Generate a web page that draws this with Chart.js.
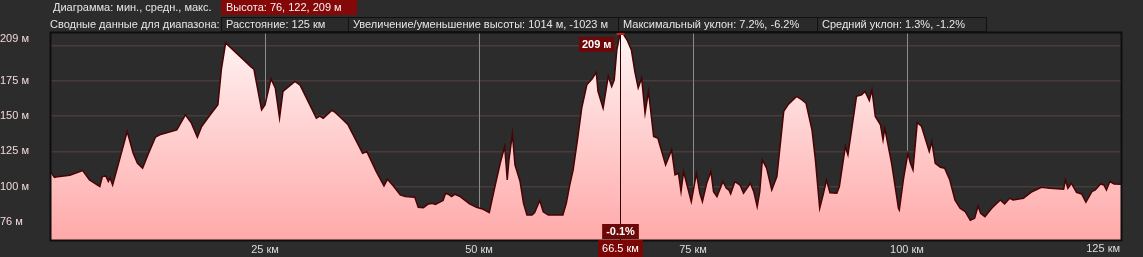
<!DOCTYPE html>
<html>
<head>
<meta charset="utf-8">
<script src="https://cdn.jsdelivr.net/npm/chart.js@4/dist/chart.umd.min.js"></script>
<style>
  html,body{margin:0;padding:0;background:#2c2c2c;}
  #wrap{position:relative;width:1143px;height:257px;overflow:hidden;background:#2c2c2c;font-family:"Liberation Sans",Arial,sans-serif;font-size:11px;color:#e6e6e6;}
  #c{position:absolute;left:0;top:0;}
  .t{position:absolute;white-space:nowrap;line-height:15px;height:15px;}
  .red{background:#850808;color:#f4f4f4;padding-left:5px;box-sizing:border-box;}
  .box{border:1px solid #111;background:#2a2a2a;padding-left:4px;box-sizing:border-box;line-height:13px;}
</style>
</head>
<body>
<div id="wrap">
  <canvas id="c" width="1143" height="257"></canvas>
  <div id="hdr"></div>
</div>
<script>
// ---- header texts ----
const headerRow1Label = "Диаграмма: мин., средн., макс.";
const headerRow1Value = "Высота: 76, 122, 209 м";
const headerRow2Label = "Сводные данные для диапазона:";
const headerRow2Boxes = [
  "Расстояние: 125 км",
  "Увеличение/уменьшение высоты: 1014 м, -1023 м",
  "Максимальный уклон: 7.2%, -6.2%",
  "Средний уклон: 1.3%, -1.2%"
];

// ---- axis ticks ----
const xTickValues = [25, 50, 75, 100, 125];
const xTickUnit = " км";
const yTickValues = [75, 100, 125, 150, 175, 200];
const yTickLabels = ["76 м", "100 м", "125 м", "150 м", "175 м", "209 м"];

// ---- cursor readout ----
const cursorKm = 66.5;
const cursorElevLabel = "209 м";
const cursorGradeLabel = "-0.1%";
const cursorKmLabel = "66.5 км";

// ---- elevation profile ----
const distanceKm = [
  0.0,0.4,0.8,2.2,3.7,4.5,5.7,6.0,6.4,6.7,6.9,7.2,8.1,8.9,9.6,10.1,10.7,11.4,12.2,12.7,
  14.7,15.7,16.4,17.1,17.6,18.6,19.5,19.9,20.4,23.4,23.7,24.6,25.0,25.7,26.2,26.7,27.1,28.5,29.1,31.0,
  31.4,31.8,32.8,33.2,33.8,34.7,35.9,36.4,36.9,38.0,38.9,39.3,40.0,40.8,41.4,42.5,42.9,43.5,44.1,44.5,
  44.9,45.8,46.1,46.4,46.8,47.2,47.8,48.9,49.7,50.5,51.2,51.9,52.5,53.0,53.3,53.5,53.9,54.2,54.8,55.2,
  55.6,56.2,56.5,57.1,57.5,58.1,59.8,60.2,60.6,61.0,61.5,62.0,62.6,63.2,63.7,63.9,64.5,65.1,65.5,65.8,
  66.1,66.5,66.9,67.3,67.8,68.2,68.6,69.0,69.4,69.8,70.4,70.9,71.8,72.5,72.9,73.3,73.6,73.9,74.8,75.4,
  75.8,76.1,76.6,77.1,77.4,77.8,78.5,78.9,79.2,79.4,79.9,80.5,80.9,81.7,82.1,82.5,82.8,83.1,83.6,84.2,
  84.8,85.6,86.1,87.1,87.7,88.2,88.9,89.3,89.8,90.2,90.6,91.0,91.8,92.1,92.8,93.1,94.1,94.7,95.1,95.6,
  95.9,96.3,96.9,97.2,97.4,98.2,99.0,99.1,99.6,100.1,100.4,100.7,101.2,101.7,102.6,102.9,103.3,103.9,104.4,105.0,
  105.6,106.2,106.8,107.4,107.9,108.3,108.6,109.1,109.9,110.9,111.4,112.0,112.4,113.6,114.6,115.7,116.7,118.3,118.5,118.8,
  119.2,119.8,120.4,120.9,121.6,122.0,122.6,123.0,123.3,123.7,124.2,125.0
];
const elevationM = [
  110,106.5,107,108,111.3,104.6,100,107,107.5,103.5,106,101,121,139,123.6,116.5,113,123.6,135,136.7,
  140.2,150.9,145,135,142.6,150.9,158,183,202,184.8,183.4,154.5,158,176.3,170,148.5,167.5,174.6,172,148.5,
  150,148.5,154,152.6,149.2,143.8,129.6,123.6,124.8,110.6,100.4,105.1,100.4,94,92.8,92.3,85.2,85,87.6,88,
  87.3,90,95.2,94.5,92.8,94.5,92.8,87.6,85.2,83.8,81.4,101,117,128.4,104.6,118.9,137.4,115.3,103.5,88,
  79.7,79.7,81.4,90,82,79.7,79.7,88,101,111.8,133,155.6,172.2,176.3,181,167.5,155.6,178.4,171,175.8,
  197,209,207.8,204,197,181.7,170,177,152,167.5,135.5,134.3,115.3,126,108.2,109.4,96.3,110.6,89.2,109.4,
  95.2,89.2,102.3,110.6,96.3,92.8,103.5,98.7,97.5,94.7,103.5,101,95.2,102.3,96.3,85.7,96.3,118.9,113,97.5,
  107,153.3,158,164,161.6,159.2,140.2,118.9,84.5,94,104.6,95.6,95.2,99.9,128.4,122.4,164,165.1,167.5,161.1,
  168.7,149.7,143.8,133.1,141.4,116.5,84.5,83.3,105.8,123.6,116.5,111.8,145.4,142.6,124.8,131.9,116.5,113.7,113,104.6,
  90.4,84.5,82.1,76,77.4,86.1,80.9,78.6,84.5,90.4,87.6,91.6,90.4,91.6,96.3,99.4,98.7,98,104.6,98.7,
  102.3,95.9,94.7,88.8,96.3,97.5,101.8,101.1,97.5,103.5,101.8,101.6
];

// ---- header (HTML) ----
(function(){
  const h = document.getElementById('hdr');
  function add(cls, text, left, top, width){
    const d = document.createElement('div');
    d.className = 't ' + cls;
    d.textContent = text;
    d.style.left = left + 'px';
    d.style.top = top + 'px';
    if (width) d.style.width = width + 'px';
    h.appendChild(d);
  }
  add('', headerRow1Label, 53, 0);
  add('red', headerRow1Value, 221, 0, 136);
  add('', headerRow2Label, 50, 17);
  const boxLefts = [221, 348, 618, 817];
  const boxRights = [348, 618, 817, 986];
  headerRow2Boxes.forEach((t, i) => add('box', t, boxLefts[i], 17, boxRights[i] - boxLefts[i] + 1));
})();

// ---- chart ----
Chart.defaults.font.family = '"Liberation Sans", Arial, sans-serif';
Chart.defaults.font.size = 11;

const overlayPlugin = {
  id: 'overlay',
  afterDraw(chart) {
    const {ctx, chartArea: a, scales: {x, y}} = chart;
    ctx.save();
    // plot frame
    ctx.strokeStyle = '#0e0e0e';
    ctx.lineWidth = 2;
    ctx.strokeRect(a.left - 0.5, a.top - 0.5, a.right - a.left + 1, a.bottom - a.top + 1);

    // last x label right-aligned at the frame edge
    ctx.font = '11px "Liberation Sans", Arial, sans-serif';
    ctx.fillStyle = '#dcdcdc';
    ctx.textBaseline = 'middle';
    ctx.textAlign = 'right';
    const last = xTickValues[xTickValues.length - 1];
    ctx.fillText(last + xTickUnit, x.getPixelForValue(last) - 1, a.bottom + 9);

    // cursor
    const cx = Math.round(x.getPixelForValue(cursorKm)) + 0.5;
    ctx.strokeStyle = '#2a0000';
    ctx.lineWidth = 1;
    ctx.beginPath();
    ctx.moveTo(cx, a.top);
    ctx.lineTo(cx, a.bottom);
    ctx.stroke();
    // marker at the top
    ctx.fillStyle = '#d01818';
    ctx.fillRect(cx - 4, a.top, 8, 2);

    function box(text, left, top, w, h, bg) {
      ctx.fillStyle = bg;
      ctx.fillRect(left, top, w, h);
      ctx.fillStyle = '#ffffff';
      ctx.textAlign = 'center';
      ctx.textBaseline = 'middle';
      ctx.fillText(text, left + w / 2, top + h / 2 + 0.5);
    }
    ctx.font = 'bold 11px "Liberation Sans", Arial, sans-serif';
    const w1 = ctx.measureText(cursorElevLabel).width + 6;
    box(cursorElevLabel, cx - 6 - w1, a.top + 4, w1, 15, '#6c0808');
    const w2 = ctx.measureText(cursorGradeLabel).width + 8;
    box(cursorGradeLabel, cx - w2 / 2, a.bottom - 16, w2, 15, '#6c0808');
    ctx.font = '11px "Liberation Sans", Arial, sans-serif';
    const w3 = ctx.measureText(cursorKmLabel).width + 8;
    box(cursorKmLabel, cx - w3 / 2, a.bottom, w3, 17, '#7a0606');
    ctx.restore();
  }
};

new Chart(document.getElementById('c'), {
  type: 'line',
  data: {
    datasets: [{
      data: distanceKm.map((d, i) => ({x: d, y: elevationM[i]})),
      borderColor: '#4a0202',
      borderWidth: 1.5,
      pointRadius: 0,
      tension: 0,
      fill: 'start',
      backgroundColor: (c) => {
        const a = c.chart.chartArea;
        if (!a) return 'rgba(255,180,180,0.8)';
        const g = c.chart.ctx.createLinearGradient(0, a.top, 0, a.bottom);
        g.addColorStop(0, '#fff4f4');
        g.addColorStop(1, '#ffa9a9');
        return g;
      }
    }]
  },
  options: {
    responsive: false,
    animation: false,
    devicePixelRatio: 1,
    layout: {padding: {top: 33, right: 22, left: 0, bottom: 0}},
    plugins: {legend: {display: false}, tooltip: {enabled: false}},
    scales: {
      x: {
        type: 'linear',
        min: 0, max: 125,
        z: 1,
        afterBuildTicks: (s) => { s.ticks = xTickValues.map(v => ({value: v})); },
        afterFit: (s) => { s.height = 17; },
        border: {display: false},
        grid: {
          drawTicks: false,
          color: (c) => (c.tick && c.tick.value === 125) ? 'rgba(0,0,0,0)' : '#8c8c8c',
          lineWidth: 1
        },
        ticks: {
          padding: 3,
          color: '#dcdcdc',
          maxRotation: 0,
          autoSkip: false,
          callback: (v) => v === 125 ? '' : v + xTickUnit
        }
      },
      y: {
        min: 62, max: 209,
        z: 1,
        afterBuildTicks: (s) => { s.ticks = yTickValues.map(v => ({value: v})); },
        afterFit: (s) => { s.width = 51; },
        border: {display: false},
        grid: {drawTicks: false, color: 'rgba(170,110,110,0.24)', lineWidth: 1.5},
        ticks: {
          color: '#f2d8d8',
          crossAlign: 'far',
          padding: 0,
          autoSkip: false,
          callback: (v) => {
            const lbl = yTickLabels[yTickValues.indexOf(v)];
            return v === 200 ? [lbl, ''] : lbl;
          }
        }
      }
    }
  },
  plugins: [overlayPlugin]
});
</script>
</body>
</html>
